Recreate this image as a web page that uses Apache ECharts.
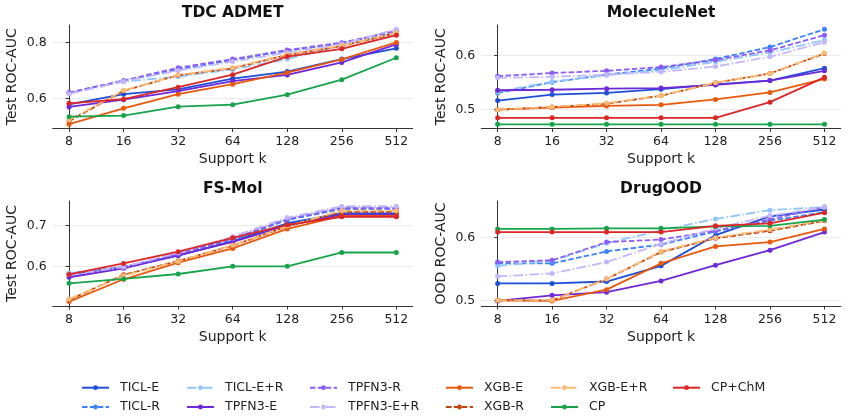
<!DOCTYPE html>
<html>
<head>
<meta charset="utf-8">
<script src="https://cdn.jsdelivr.net/npm/echarts@6/dist/echarts.min.js"></script>
<style>
  html, body { margin: 0; padding: 0; background: #fff; }
  #chart { width: 848px; height: 418px; }
</style>
</head>
<body>
<div id="chart"></div>
<script>
// support sizes on the x axis
const kLabels = ['8', '16', '32', '64', '128', '256', '512'];

// method order (same order for every panel's rows below)
const methods = ['TICL-E', 'TICL-R', 'TICL-E+R', 'TPFN3-E', 'TPFN3-R', 'TPFN3-E+R',
                 'XGB-E', 'XGB-R', 'XGB-E+R', 'CP', 'CP+ChM'];
const colors = ['#1d4ed8', '#3b82f6', '#93c5fd', '#6d28d9', '#8b5cf6', '#c4b5fd',
                '#ea580c', '#c2410c', '#fdba74', '#16a34a', '#dc2626'];
const dashes = ['solid', 'dash', 'dashdot', 'solid', 'dash', 'dashdot',
                'solid', 'dash', 'dashdot', 'solid', 'solid'];

// TDC ADMET, test ROC-AUC
const tdcAdmet = [
  [0.578, 0.615, 0.632, 0.671, 0.696, 0.741, 0.780],
  [0.620, 0.663, 0.704, 0.738, 0.771, 0.798, 0.840],
  [0.618, 0.660, 0.678, 0.704, 0.741, 0.790, 0.835],
  [0.569, 0.595, 0.626, 0.662, 0.684, 0.729, 0.794],
  [0.621, 0.664, 0.710, 0.741, 0.774, 0.800, 0.843],
  [0.616, 0.661, 0.700, 0.732, 0.765, 0.795, 0.848],
  [0.507, 0.564, 0.615, 0.651, 0.692, 0.740, 0.801],
  [0.518, 0.627, 0.683, 0.708, 0.756, 0.788, 0.834],
  [0.522, 0.628, 0.684, 0.710, 0.758, 0.790, 0.836],
  [0.534, 0.538, 0.570, 0.577, 0.613, 0.667, 0.746],
  [0.582, 0.597, 0.640, 0.685, 0.750, 0.778, 0.827]
];

// MoleculeNet, test ROC-AUC
const moleculeNet = [
  [0.517, 0.528, 0.531, 0.538, 0.547, 0.554, 0.577],
  [0.531, 0.551, 0.565, 0.576, 0.594, 0.616, 0.649],
  [0.533, 0.552, 0.564, 0.573, 0.589, 0.606, 0.629],
  [0.536, 0.537, 0.539, 0.540, 0.546, 0.554, 0.572],
  [0.562, 0.568, 0.572, 0.579, 0.592, 0.610, 0.638],
  [0.559, 0.561, 0.565, 0.570, 0.580, 0.598, 0.625],
  [0.500, 0.504, 0.507, 0.509, 0.519, 0.532, 0.557],
  [0.500, 0.505, 0.511, 0.526, 0.550, 0.567, 0.604],
  [0.500, 0.505, 0.512, 0.526, 0.550, 0.567, 0.605],
  [0.473, 0.473, 0.473, 0.473, 0.473, 0.473, 0.473],
  [0.485, 0.485, 0.485, 0.485, 0.485, 0.514, 0.560]
];

// FS-Mol, test ROC-AUC
const fsMol = [
  [0.581, 0.598, 0.626, 0.662, 0.706, 0.730, 0.730],
  [0.582, 0.598, 0.630, 0.666, 0.714, 0.741, 0.741],
  [0.583, 0.598, 0.632, 0.669, 0.718, 0.745, 0.745],
  [0.573, 0.595, 0.627, 0.660, 0.700, 0.727, 0.727],
  [0.579, 0.598, 0.630, 0.668, 0.716, 0.743, 0.743],
  [0.580, 0.598, 0.634, 0.673, 0.720, 0.748, 0.748],
  [0.513, 0.568, 0.609, 0.644, 0.692, 0.724, 0.724],
  [0.517, 0.579, 0.613, 0.651, 0.698, 0.734, 0.734],
  [0.519, 0.577, 0.612, 0.652, 0.699, 0.737, 0.737],
  [0.558, 0.569, 0.581, 0.600, 0.600, 0.634, 0.634],
  [0.580, 0.607, 0.636, 0.670, 0.702, 0.722, 0.722]
];

// DrugOOD, OOD ROC-AUC
const drugOOD = [
  [0.527, 0.527, 0.530, 0.555, 0.604, 0.634, 0.645],
  [0.559, 0.559, 0.578, 0.589, 0.610, 0.627, 0.641],
  [0.555, 0.563, 0.591, 0.612, 0.630, 0.644, 0.649],
  [0.499, 0.508, 0.513, 0.531, 0.556, 0.580, 0.609],
  [0.561, 0.564, 0.593, 0.597, 0.611, 0.629, 0.649],
  [0.538, 0.543, 0.561, 0.590, 0.615, 0.635, 0.649],
  [0.500, 0.499, 0.517, 0.559, 0.586, 0.593, 0.614],
  [0.500, 0.500, 0.534, 0.577, 0.599, 0.611, 0.627],
  [0.500, 0.500, 0.534, 0.578, 0.600, 0.613, 0.628],
  [0.614, 0.614, 0.615, 0.615, 0.618, 0.619, 0.629],
  [0.609, 0.609, 0.609, 0.609, 0.619, 0.623, 0.640]
];

const panelTitles = ['TDC ADMET', 'MoleculeNet', 'FS-Mol', 'DrugOOD'];
const panelYNames = ['Test ROC-AUC', 'Test ROC-AUC', 'Test ROC-AUC', 'OOD ROC-AUC'];
const panelYTicks = [[0.6, 0.8], [0.5, 0.6], [0.6, 0.7], [0.5, 0.6]];
const panelData = [tdcAdmet, moleculeNet, fsMol, drugOOD];

const FONT = 'DejaVu Sans';
const myChart = echarts.init(document.getElementById('chart'), null, { renderer: 'canvas' });

// plot boxes, y ranges
const grids = [
  { left: 52.7, top: 25, width: 360, height: 103.5 },
  { left: 481.3, top: 25, width: 359.5, height: 103.5 },
  { left: 52.7, top: 201, width: 360, height: 105 },
  { left: 481.3, top: 201, width: 359.5, height: 105 }
];
const yRanges = [[0.4914, 0.8637], [0.4652, 0.6569], [0.5022, 0.7608], [0.4909, 0.6586]];

function dashArr (t) {
  if (t === 'dash') return [5.5, 2.4];
  if (t === 'dashdot') return [9.6, 2.4, 1.5, 2.4];
  return 'solid';
}

let xAxes = [], yAxes = [], series = [], graphics = [];
const ticks = [0, 1, 2, 3, 4, 5, 6];

grids.forEach(function (g, p) {
  xAxes.push({
    gridIndex: p,
    type: 'value',
    min: -0.3,
    max: 6.3,
    axisLine: { show: true, onZero: false, lineStyle: { color: '#333', width: 1 } },
    axisTick: { show: true, customValues: ticks, length: 3.5, lineStyle: { color: '#333' } },
    axisLabel: {
      customValues: ticks,
      formatter: v => kLabels[Math.round(v)],
      fontFamily: FONT, fontSize: 12.5, color: '#222', margin: 7
    },
    splitLine: { show: false },
    name: 'Support k',
    nameLocation: 'middle',
    nameGap: 24,
    nameTextStyle: { fontFamily: FONT, fontSize: 14, color: '#222' }
  });
  yAxes.push({
    gridIndex: p,
    type: 'value',
    min: yRanges[p][0],
    max: yRanges[p][1],
    axisLine: { show: true, lineStyle: { color: '#333', width: 1 } },
    axisTick: { show: true, customValues: panelYTicks[p], length: 3.5, lineStyle: { color: '#333' } },
    axisLabel: {
      customValues: panelYTicks[p],
      formatter: v => v.toFixed(1),
      fontFamily: FONT, fontSize: 12.5, color: '#222', margin: 6
    },
    splitLine: { show: true, lineStyle: { color: '#ebebeb', width: 1 } },
    name: panelYNames[p],
    nameLocation: 'middle',
    nameGap: 33,
    nameTextStyle: { fontFamily: FONT, fontSize: 14, color: '#222' }
  });
  graphics.push({
    type: 'text',
    x: g.left + g.width / 2,
    y: g.top - 12,
    style: {
      text: panelTitles[p],
      font: 'bold 15.5px "DejaVu Sans"',
      fill: '#111',
      textAlign: 'center',
      textVerticalAlign: 'middle'
    }
  });
  methods.forEach(function (m, j) {
    series.push({
      type: 'line',
      name: m,
      xAxisIndex: p,
      yAxisIndex: p,
      data: panelData[p][j].map((v, i) => [i, v]),
      symbol: 'circle',
      symbolSize: 5,
      color: colors[j],
      lineStyle: { width: 1.8, type: dashArr(dashes[j]) },
      itemStyle: { color: colors[j] },
      emphasis: { disabled: true },
      z: 2 + j * 0.01
    });
  });
});

// legend, one block per column
const legendCols = [
  ['TICL-E', 'TICL-R'], ['TICL-E+R', 'TPFN3-E'], ['TPFN3-R', 'TPFN3-E+R'],
  ['XGB-E', 'XGB-R'], ['XGB-E+R', 'CP'], ['CP+ChM']
];
const legendLefts = [81, 186, 309, 445, 550, 672];
const legends = legendCols.map(function (col, c) {
  return {
    orient: 'vertical',
    left: legendLefts[c],
    top: 380.7,
    height: 40,
    padding: 0,
    itemWidth: 27,
    itemHeight: 6,
    itemGap: 5.3,
    selectedMode: false,
    textStyle: {
      fontFamily: FONT, fontSize: 12.5, lineHeight: 14, color: '#222',
      padding: [0, 0, 0, 6]
    },
    data: col
  };
});

let option = {
  animation: false,
  backgroundColor: '#fff',
  grid: grids,
  xAxis: xAxes,
  yAxis: yAxes,
  legend: legends,
  graphic: graphics,
  series: series
};
myChart.setOption(option);
</script>
</body>
</html>
